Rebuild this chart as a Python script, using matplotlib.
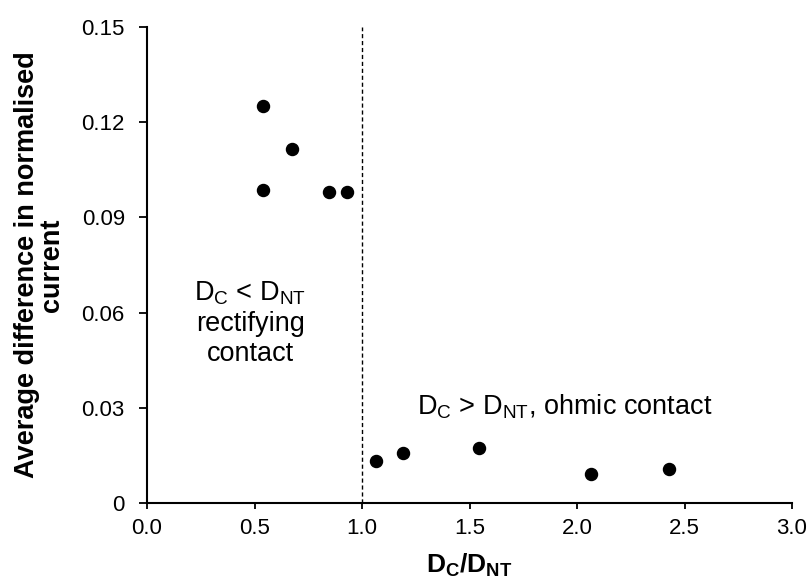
import matplotlib
matplotlib.use("Agg")
import matplotlib.pyplot as plt

plt.rcParams['font.family'] = ['Liberation Sans', 'DejaVu Sans']
plt.rcParams['mathtext.fontset'] = 'custom'
plt.rcParams['mathtext.rm'] = 'Liberation Sans'
plt.rcParams['mathtext.it'] = 'Liberation Sans:italic'
plt.rcParams['mathtext.bf'] = 'Liberation Sans:bold'

# data
ratio = [0.54, 0.675, 0.54, 0.845, 0.93, 1.065, 1.19, 1.545, 2.065, 2.43]
diff = [0.125, 0.1115, 0.0985, 0.098, 0.098, 0.0133, 0.0158, 0.0172, 0.009, 0.0107]

x_ticks = [0.0, 0.5, 1.0, 1.5, 2.0, 2.5, 3.0]
x_tick_labels = ['0.0', '0.5', '1.0', '1.5', '2.0', '2.5', '3.0']
y_ticks = [0, 0.03, 0.06, 0.09, 0.12, 0.15]
y_tick_labels = ['0', '0.03', '0.06', '0.09', '0.12', '0.15']

fig = plt.figure(figsize=(8.09, 5.81), dpi=100)
ax = fig.add_axes([147 / 809, 1 - 503 / 581, (792 - 147) / 809, (503 - 27) / 581])

ax.scatter(ratio, diff, s=75, color='black', zorder=3)

# boundary between the two contact regimes
ax.axvline(1.0, color='black', linewidth=1, linestyle=(0, (3, 2)))

ax.set_xlim(0, 3.0)
ax.set_ylim(0, 0.15)
ax.set_xticks(x_ticks)
ax.set_xticklabels(x_tick_labels)
ax.set_yticks(y_ticks)
ax.set_yticklabels(y_tick_labels)

for side in ['top', 'right']:
    ax.spines[side].set_visible(False)
for side in ['left', 'bottom']:
    ax.spines[side].set_linewidth(1.5)
ax.tick_params(axis='y', direction='out', length=6, width=1.3, labelsize=16, pad=10)
ax.tick_params(axis='x', direction='out', length=4, width=1.3, labelsize=16, pad=7)

ax.set_xlabel(r'$\mathbf{D_C/D_{NT}}$', fontsize=19, labelpad=9)
ax.set_ylabel('Average difference in normalised\ncurrent', fontsize=19.5,
              fontweight='bold', labelpad=12, linespacing=0.95)

ax.text(0.48, 0.0567, 'D$_\\mathrm{C}$ < D$_\\mathrm{NT}$\nrectifying\ncontact',
        ha='center', va='center', fontsize=19.5, linespacing=1.2)
ax.text(1.255, 0.0303, 'D$_\\mathrm{C}$ > D$_\\mathrm{NT}$, ohmic contact',
        ha='left', va='center', fontsize=19.5)

fig.savefig('out.png', dpi=100)
